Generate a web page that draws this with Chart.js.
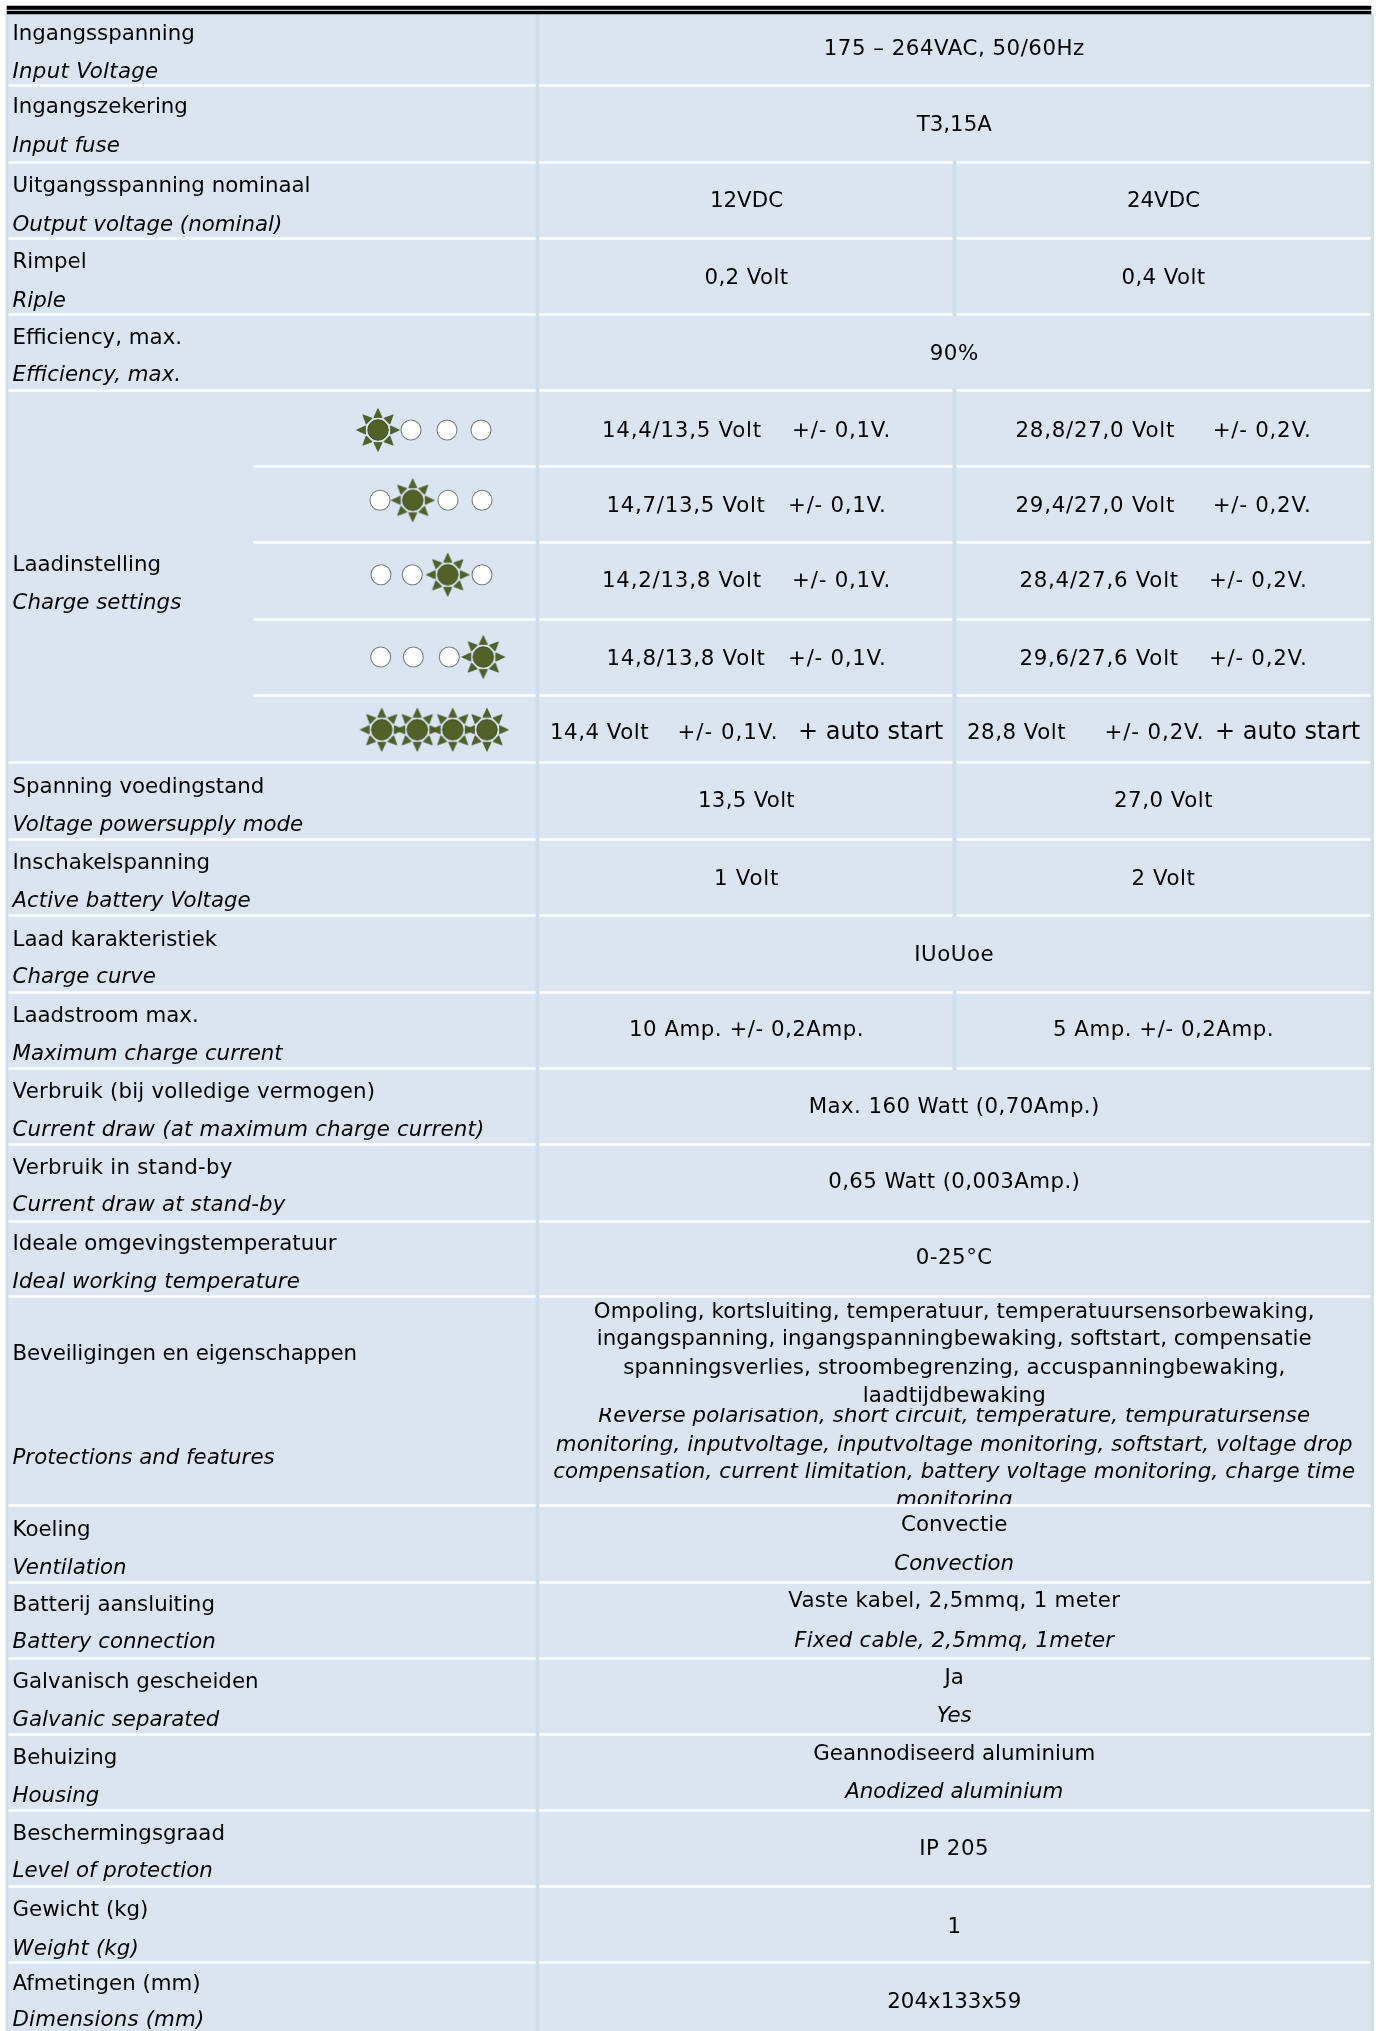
<!DOCTYPE html>
<html><head><meta charset="utf-8">
<script src="https://cdn.jsdelivr.net/npm/chart.js@4"></script>
<style>html,body{margin:0;padding:0;background:#fff}canvas{display:block}</style>
</head><body><canvas id="c" width="1378" height="2031"></canvas>
<script>
// ---- table content ----
const labelsNl=["Ingangsspanning","Ingangszekering","Uitgangsspanning nominaal","Rimpel","Efficiency, max.","Laadinstelling","Spanning voedingstand","Inschakelspanning","Laad karakteristiek","Laadstroom max.","Verbruik (bij volledige vermogen)","Verbruik in stand-by","Ideale omgevingstemperatuur","Beveiligingen en eigenschappen","Koeling","Batterij aansluiting","Galvanisch gescheiden","Behuizing","Beschermingsgraad","Gewicht (kg)","Afmetingen (mm)"];
const labelsEn=["Input Voltage","Input fuse","Output voltage (nominal)","Riple","Efficiency, max.","Charge settings","Voltage powersupply mode","Active battery Voltage","Charge curve","Maximum charge current","Current draw (at maximum charge current)","Current draw at stand-by","Ideal working temperature","Protections and features","Ventilation","Battery connection","Galvanic separated","Housing","Level of protection","Weight (kg)","Dimensions (mm)"];
const valuesFull=["175 – 264VAC, 50/60Hz","T3,15A","90%","IUoUoe","Max. 160 Watt (0,70Amp.)","0,65 Watt (0,003Amp.)","0-25°C","IP 205","1","204x133x59"];
const values12=["12VDC","0,2 Volt","14,4/13,5 Volt\u00a0\u00a0\u00a0\u00a0+/- 0,1V.","14,7/13,5 Volt\u00a0\u00a0\u00a0+/- 0,1V.","14,2/13,8 Volt\u00a0\u00a0\u00a0\u00a0+/- 0,1V.","14,8/13,8 Volt\u00a0\u00a0\u00a0+/- 0,1V.","13,5 Volt","1 Volt","10 Amp. +/- 0,2Amp."];
const values24=["24VDC","0,4 Volt","28,8/27,0 Volt\u00a0\u00a0\u00a0\u00a0\u00a0+/- 0,2V.","29,4/27,0 Volt\u00a0\u00a0\u00a0\u00a0\u00a0+/- 0,2V.","28,4/27,6 Volt\u00a0\u00a0\u00a0\u00a0+/- 0,2V.","29,6/27,6 Volt\u00a0\u00a0\u00a0\u00a0+/- 0,2V.","27,0 Volt","2 Volt","5 Amp. +/- 0,2Amp."];
const autoStart12=["14,4 Volt","+/- 0,1V.","+ auto start"];
const autoStart24=["28,8 Volt","+/- 0,2V.","+ auto start"];
const protectionsNl=["Ompoling, kortsluiting, temperatuur, temperatuursensorbewaking,","ingangspanning, ingangspanningbewaking, softstart, compensatie","spanningsverlies, stroombegrenzing, accuspanningbewaking,","laadtijdbewaking"];
const protectionsEn=["Reverse polarisation, short circuit, temperature, tempuratursense","monitoring, inputvoltage, inputvoltage monitoring, softstart, voltage drop","compensation, current limitation, battery voltage monitoring, charge time","monitoring"];
const bilingualNl=["Convectie","Vaste kabel, 2,5mmq, 1 meter","Ja","Geannodiseerd aluminium"];
const bilingualEn=["Convection","Fixed cable, 2,5mmq, 1meter","Yes","Anodized aluminium"];

// ---- grid (table units) ----
const rowEdges=[14,87,164,240,316,392,468,544,621,697,764,841,917,994,1070,1146,1223,1298,1507,1584,1660,1736,1812,1888,1964,2034];
const splitRows=[2,3,10,11,13];      // rows whose value cell is divided in two ("12V | 24V")
const chargeRows=[5,6,7,8,9];
const columnEdges={left:8,label:253,divider:537.5,split:954.5,right:1371};

// ---- LED indicator rows ----
const ledOffX=[[411,447,481],[380,448,482],[381,412.3,482],[380.7,413.3,449.3],[]];
const ledOnX=[[378],[412.7],[447.7],[483.3],[381.7,417.3,452.7,487]];
const ledY=[430,500.3,574.7,657,729.7];

// ---- text baselines ----
const nlY=[40.4,113,192,268,343.5,570.5,793,869,946,1022,1098,1174,1250,1360,1536,1610.5,1688,1763.5,1840,1916,1990];
const enY=[78,152,231,307,381,609,831,907,983,1060,1136,1211,1288,1464,1574,1648,1726,1802,1877,1955,2026];
const fullY=[55,131,360,961,1113,1188,1264,1855,1933,2008];
const splitY=[207,284,437,512,587,665,807,885,1036];
const autoY=739;
const protNlY=[1318,1345,1374,1402];
const protEnY=[1422,1450.5,1478,1506];
const bilingualNlY=[1531,1607,1684,1760];
const bilingualEnY=[1570,1647,1722,1798];

// ---- measured text widths of the reference face ----
const fullW=[261,75,49,80,291,252,77,70,null,134];
const w12=[null,84,289,280,289,280,97,65,235];
const w24=[null,84,296,296,288,288,99,64,221];
const protNlW=[721,715,662,183];
const protEnW=[712,797,802,null];
const bilNlW=[null,332,null,282];
const bilEnW=[null,320,null,null];
const nlW={10:362.7,11:220,13:344.5};
const enW={0:146,10:472,11:273,12:287.4,19:126.5,20:192};

const CELL='#dbe5f1',RULE='#cfdeef',TXT='#000',OLIVE='#4f6228';
const FONT='"DejaVu Sans"',SIZE=21.33;

function sunIcon(){
  const s=48,c=document.createElement('canvas');c.width=c.height=s;
  const g=c.getContext('2d');g.translate(s/2,s/2);
  for(let i=0;i<8;i++){
    g.save();g.rotate(i*Math.PI/4);
    g.beginPath();g.moveTo(0,-21.5);g.lineTo(4.2,-12.5);g.lineTo(-4.2,-12.5);g.closePath();
    g.fillStyle=OLIVE;g.fill();g.lineWidth=.6;g.strokeStyle='#3c4a1e';g.stroke();
    g.restore();
  }
  g.beginPath();g.arc(0,0,10.2,0,Math.PI*2);g.fillStyle=OLIVE;g.fill();
  g.lineWidth=1;g.strokeStyle='#3c4a1e';g.stroke();
  return c;
}

const cols=columnEdges;
const mid=(a,b)=>(a+b)/2;
const rowsIdx=rowEdges.slice(0,-1).map((_,i)=>i);
const band=i=>[rowEdges[i],rowEdges[i+1]-3];
function barSet(cx0,cx1,rows,color,order){
  return {type:'bar',grouped:false,backgroundColor:color,borderWidth:0,barThickness:cx1-cx0,
    data:rows.map(r=>({x:mid(cx0,cx1),y:Array.isArray(r)?r:band(r)})),order};
}
const nonCharge=rowsIdx.filter(i=>!chargeRows.includes(i));
const wholeRows=nonCharge.filter(i=>!splitRows.includes(i));
const allSplit=[...splitRows,...chargeRows];
const fullHeight=[rowEdges[0],2031];
const datasets=[
  {type:'scatter',pointStyle:'circle',pointRadius:10,pointBackgroundColor:'#fff',pointBorderColor:'#7f7f7f',pointBorderWidth:1.1,
   data:ledOffX.flatMap((xs,r)=>xs.map(x=>({x,y:ledY[r]}))),order:1},
  {type:'scatter',pointStyle:sunIcon(),
   data:ledOnX.flatMap((xs,r)=>xs.map(x=>({x,y:ledY[r]}))),order:1},
  barSet(cols.left,cols.divider,nonCharge,CELL,5),
  barSet(cols.left,cols.label,[[rowEdges[5],rowEdges[10]-3]],CELL,5),
  barSet(cols.label,cols.divider,chargeRows,CELL,5),
  barSet(cols.divider,cols.right,wholeRows,CELL,5),
  barSet(cols.divider,cols.split,allSplit,CELL,5),
  barSet(cols.split,cols.right,allSplit,CELL,5),
  barSet(cols.split-1.5,cols.split+1.5,allSplit.map(i=>[rowEdges[i]-3,rowEdges[i+1]]),RULE,3),
  barSet(cols.left-2,cols.left,[fullHeight],RULE,3),
  barSet(cols.divider-1.5,cols.divider+1.5,[fullHeight],RULE,3),
  barSet(cols.right,cols.right+2.5,[fullHeight],RULE,3),
  barSet(7,cols.right,[[6,9.5]],'#000',2),
  barSet(7,cols.right,[[11,14]],'#000',2)
];

const textPlugin={id:'tableText',afterDatasetsDraw(ch){
  const g=ch.ctx,X=ch.scales.x,Y=ch.scales.y;
  const put=(t,x,y,al,it,size,w)=>{
    g.font=(it?'italic ':'')+(size||SIZE)+'px '+FONT;g.textAlign=al;g.textBaseline='alphabetic';g.fillStyle=TXT;
    g.letterSpacing='0px';
    if(w){const d=(w-g.measureText(t).width)/t.length;g.letterSpacing=d.toFixed(3)+'px';}
    g.fillText(t,X.getPixelForValue(x),Y.getPixelForValue(y));
    g.letterSpacing='0px';
  };
  g.save();
  const lx=12.5, cF=mid(cols.divider,cols.right), cL=746.5, cR=1163.5;
  labelsNl.forEach((t,i)=>put(t,lx,nlY[i],'left',false,null,nlW[i]));
  labelsEn.forEach((t,i)=>put(t,lx,enY[i],'left',true,null,enW[i]));
  valuesFull.forEach((t,i)=>put(t,cF,fullY[i],'center',false,null,fullW[i]));
  values12.forEach((t,i)=>put(t,cL,splitY[i],'center',false,null,w12[i]));
  values24.forEach((t,i)=>put(t,cR,splitY[i],'center',false,null,w24[i]));
  put(autoStart12[0],550,autoY,'left',false,null,99);put(autoStart12[1],677.5,autoY,'left',false,null,101);put(autoStart12[2],798,autoY,'left',false,24);
  put(autoStart24[0],967,autoY,'left',false,null,99);put(autoStart24[1],1104.5,autoY,'left',false,null,100);put(autoStart24[2],1215,autoY,'left',false,24);
  protectionsNl.forEach((t,i)=>put(t,cF,protNlY[i],'center',false,null,protNlW[i]));
  // the English block is cut off by its cell
  g.save();g.beginPath();g.rect(cols.divider+1.5,1408,cols.right-cols.divider,1504-1408);g.clip();
  protectionsEn.forEach((t,i)=>put(t,cF,protEnY[i],'center',true,null,protEnW[i]));
  g.restore();
  bilingualNl.forEach((t,i)=>put(t,cF,bilingualNlY[i],'center',false,null,bilNlW[i]));
  bilingualEn.forEach((t,i)=>put(t,cF,bilingualEnY[i],'center',true,null,bilEnW[i]));
  g.restore();
}};

new Chart(document.getElementById('c'),{
  type:'bar',data:{datasets},plugins:[textPlugin],
  options:{responsive:false,animation:false,devicePixelRatio:1,
    layout:{padding:0,autoPadding:false},
    plugins:{legend:{display:false},tooltip:{enabled:false},title:{display:false}},
    scales:{
      x:{type:'linear',display:false,min:0,max:1378,offset:false},
      y:{type:'linear',display:false,min:0,max:2031,reverse:true,offset:false}
    }}
});
</script></body></html>
